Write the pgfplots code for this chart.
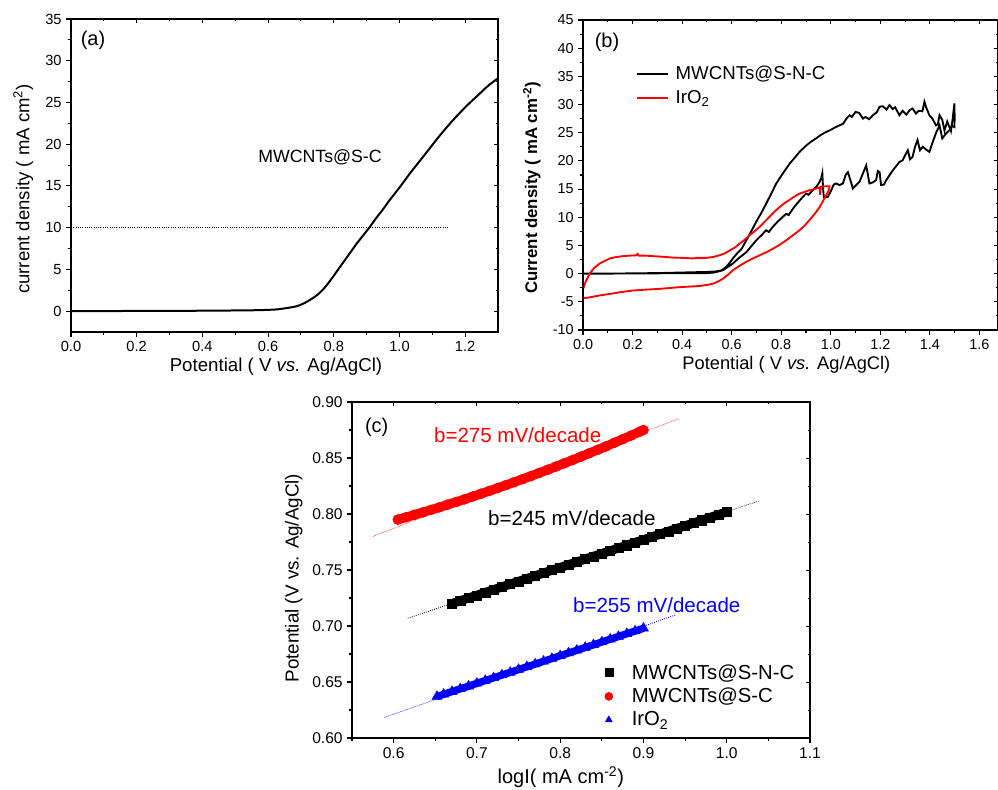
\documentclass[border=0pt]{standalone}
\usepackage{pgfplots}
\usepackage{pgfplotstable}
\pgfplotsset{compat=1.18}
\usepackage{fontspec}
\setmainfont{Liberation Sans}
\newcommand{\fs}[1]{\fontsize{#1}{#1}\selectfont}
\pgfplotsset{
  base/.style={scale only axis, tick align=outside, tick pos=left,
    axis line style={line width=0.9pt},
    major tick length=3.5pt, minor tick length=2pt,
    every tick/.style={black, line width=0.8pt},
    /pgf/number format/assume math mode=true},
  mirror/.style={scale only axis, tick align=inside, tick pos=right,
    xticklabels={}, yticklabels={},
    axis line style={line width=0.9pt},
    major tick length=3pt, minor tick length=1.8pt,
    every tick/.style={black, line width=0.7pt}},
  fx1/.style={xticklabel style={/pgf/number format/fixed,/pgf/number format/fixed zerofill,/pgf/number format/precision=1}},
  fy2/.style={yticklabel style={/pgf/number format/fixed,/pgf/number format/fixed zerofill,/pgf/number format/precision=2}},
}
\pgfplotstableread{
x y
0.67 0.7200
0.68 0.7225
0.69 0.7250
0.70 0.7274
0.71 0.7299
0.72 0.7324
0.73 0.7349
0.74 0.7374
0.75 0.7398
0.76 0.7423
0.77 0.7448
0.78 0.7473
0.79 0.7498
0.80 0.7522
0.81 0.7547
0.82 0.7572
0.83 0.7597
0.84 0.7622
0.85 0.7646
0.86 0.7671
0.87 0.7696
0.88 0.7721
0.89 0.7746
0.90 0.7770
0.91 0.7795
0.92 0.7820
0.93 0.7845
0.94 0.7870
0.95 0.7894
0.96 0.7919
0.97 0.7944
0.98 0.7969
0.99 0.7994
1.00 0.8018
}\blacktab
\pgfplotstableread{
x y
0.605 0.7950
0.615 0.7971
0.625 0.7993
0.635 0.8015
0.645 0.8037
0.655 0.8060
0.665 0.8084
0.675 0.8107
0.685 0.8131
0.695 0.8156
0.705 0.8181
0.715 0.8206
0.725 0.8232
0.735 0.8258
0.745 0.8285
0.755 0.8312
0.765 0.8339
0.775 0.8367
0.785 0.8395
0.795 0.8424
0.805 0.8453
0.815 0.8482
0.825 0.8512
0.835 0.8543
0.845 0.8573
0.855 0.8604
0.865 0.8636
0.875 0.8668
0.885 0.8700
0.895 0.8733
0.900 0.8750
}\redtab
\pgfplotstableread{
x y
0.652 0.6370
0.66 0.6390
0.67 0.6414
0.68 0.6439
0.69 0.6463
0.70 0.6488
0.71 0.6513
0.72 0.6537
0.73 0.6562
0.74 0.6586
0.75 0.6611
0.76 0.6636
0.77 0.6660
0.78 0.6685
0.79 0.6709
0.80 0.6734
0.81 0.6759
0.82 0.6783
0.83 0.6808
0.84 0.6832
0.85 0.6857
0.86 0.6882
0.87 0.6906
0.88 0.6931
0.89 0.6955
0.90 0.6980
}\bluetab
\begin{document}
\begin{tikzpicture}
\useasboundingbox (0pt,0pt) rectangle (748.5pt,591.75pt);
% ---------------- (a)
\begin{axis}[base, fx1, at={(53.25pt,342.75pt)}, anchor=south west,
  width=320.25pt, height=234.75pt,
  xmin=0, xmax=1.3, ymin=-2.5, ymax=35,
  xtick={0,0.2,...,1.2}, ytick={0,5,...,35},
  minor x tick num=1, minor y tick num=1,
  ticklabel style={font=\fs{11}},
  xlabel={Potential ( V \textit{vs.} Ag/AgCl)},
  ylabel={current density ( mA cm\textsuperscript{2})},
  xlabel style={font=\fs{14}, at={(axis description cs:0.48,-0.112)}, anchor=center},
  ylabel style={font=\fs{13.9}, at={(axis description cs:-0.112,0.457)}, anchor=center},
]
\addplot[black, densely dotted, line width=0.7pt] coordinates {(0,10) (1.15,10)};
\addplot[black, line width=1.5pt, smooth] coordinates {
(0,0) (0.1,0.01) (0.2,0.02) (0.3,0.03) (0.4,0.05) (0.5,0.08) (0.55,0.1) (0.6,0.15)
(0.63,0.22) (0.65,0.33) (0.67,0.45) (0.69,0.62) (0.71,0.95) (0.73,1.4) (0.75,1.95)
(0.77,2.7) (0.79,3.7) (0.81,4.8) (0.83,5.9) (0.85,7.0) (0.87,8.1) (0.89,9.1)
(0.91,10.1) (0.93,11.2) (0.95,12.2) (0.97,13.3) (1.0,14.8) (1.03,16.4) (1.06,17.9)
(1.09,19.4) (1.12,20.9) (1.15,22.3) (1.18,23.6) (1.21,24.8) (1.24,25.9) (1.27,27.0) (1.3,27.9)};
\node[font=\fs{13.3}] at (axis cs:0.758,18.47) {MWCNTs@S-C};
\node[font=\fs{15}] at (axis cs:0.067,32.5) {(a)};
\end{axis}
\begin{axis}[mirror, at={(53.25pt,342.75pt)}, anchor=south west,
  width=320.25pt, height=234.75pt,
  xmin=0, xmax=1.3, ymin=-2.5, ymax=35,
  xtick={0,0.2,...,1.2}, ytick={0,5,...,35},
  minor x tick num=1, minor y tick num=1]
\end{axis}
% ---------------- (b)
\begin{axis}[base, fx1, at={(437.25pt,344.25pt)}, anchor=south west,
  width=311.25pt, height=232.5pt,
  xmin=0, xmax=1.675, ymin=-10, ymax=45,
  xtick={0,0.2,...,1.6}, ytick={-10,-5,...,45},
  minor x tick num=1, minor y tick num=1,
  ticklabel style={font=\fs{10.8}},
  xlabel={Potential ( V \textit{vs.} Ag/AgCl)},
  ylabel={\textbf{Current density ( mA cm\textsuperscript{-2})}},
  xlabel style={font=\fs{13.7}, at={(axis description cs:0.49,-0.113)}, anchor=center},
  ylabel style={font=\fs{12.6}, at={(axis description cs:-0.123,0.458)}, anchor=center},
  legend style={at={(0.125,0.864)}, anchor=north west, draw=none, fill=none, font=\fs{14},
    row sep=2.5pt, inner sep=1pt},
  legend cell align=left,
  legend image code/.code={\draw[#1] (0pt,0pt) -- (23pt,0pt); \path (26pt,0pt);},
]
\addplot[black, line width=1.4pt] coordinates {
(0,0) (0.1,0) (0.2,0.05) (0.3,0.05) (0.4,0.1) (0.5,0.1) (0.53,0.2) (0.565,0.6) (0.605,1.8)
(0.63,2.8) (0.659,3.8) (0.68,4.9) (0.699,5.9) (0.72,6.8) (0.739,7.7) (0.75,7.4) (0.766,8.3)
(0.785,9.2) (0.807,10.1) (0.82,10.6) (0.83,10.4) (0.847,11.5) (0.865,12.5) (0.887,13.6)
(0.9,14.2) (0.91,14.0) (0.928,14.8) (0.945,15.6) (0.955,16.3) (0.962,17.0) (0.966,17.8)
(0.969,15.0) (0.972,13.6) (0.988,13.6) (1.002,14.8) (1.012,15.8) (1.022,16.0) (1.035,15.7)
(1.049,16.0) (1.06,17.5) (1.069,18.0) (1.08,16.5) (1.089,15.1) (1.1,15.6) (1.116,16.3)
(1.13,17.8) (1.143,19.2) (1.15,17.5) (1.156,16.0) (1.17,16.2) (1.183,16.6) (1.19,18.2)
(1.197,18.0) (1.203,15.7) (1.215,15.8) (1.224,16.6) (1.25,18.3) (1.277,19.8) (1.29,20.1)
(1.3,21.0) (1.311,21.9) (1.32,20.3) (1.33,20.7) (1.34,22.5) (1.35,23.7) (1.36,21.9)
(1.371,22.5) (1.385,22.0) (1.398,21.6) (1.412,23.4) (1.425,25.0) (1.439,26.3) (1.45,24.0)
(1.466,24.9) (1.48,25.5) (1.49,26.2) (1.499,26.0) (1.5,27.5) (1.499,30.2) (1.492,27.5)
(1.485,25.3) (1.479,26.0) (1.47,27.0) (1.459,25.4) (1.45,27.3) (1.439,28.1) (1.432,26.5)
(1.425,26.3) (1.41,27.5) (1.398,28.1) (1.385,29.5) (1.378,30.5) (1.37,28.8) (1.355,28.9)
(1.344,28.4) (1.33,29.3) (1.318,29.0) (1.305,28.2) (1.29,28.9) (1.277,28.1) (1.26,29.5)
(1.25,29.2) (1.237,29.9) (1.225,29.1) (1.21,29.7) (1.197,29.6) (1.185,28.6) (1.17,28.1)
(1.155,27.4) (1.14,27.8) (1.13,27.5) (1.115,28.5) (1.1,28.7) (1.085,27.8) (1.076,28.1)
(1.065,27.6) (1.05,26.6) (1.035,26.3) (1.02,26.0) (1.008,25.7) (0.99,25.3) (0.975,25.0)
(0.96,24.6) (0.941,24.0) (0.92,23.4) (0.9,22.7) (0.874,21.6) (0.855,20.6) (0.834,19.5)
(0.81,18.0) (0.78,16.0) (0.76,14.2) (0.739,12.4) (0.72,10.8) (0.699,9.2) (0.68,7.6)
(0.659,5.9) (0.64,4.4) (0.62,3.5) (0.605,2.7) (0.59,1.8) (0.578,1.2) (0.56,0.6)
(0.538,0.4) (0.5,0.3) (0.4,0.2) (0.3,0.1) (0.2,0.05) (0.1,0.0) (0,0.0)};
\addlegendentry{MWCNTs@S-N-C}
\addplot[red, line width=1.4pt] coordinates {
(0,-2.8) (0.01,-1.5) (0.027,0) (0.045,1.0) (0.067,1.8) (0.09,2.3) (0.108,2.7) (0.135,2.95)
(0.161,3.1) (0.19,3.2) (0.215,3.25) (0.22,3.5) (0.225,3.2) (0.25,3.2) (0.282,3.1) (0.32,3.0)
(0.363,2.85) (0.4,2.8) (0.444,2.7) (0.46,2.8) (0.497,2.8) (0.525,2.95) (0.551,3.25)
(0.572,3.6) (0.592,4.1) (0.612,4.6) (0.632,5.3) (0.652,6.0) (0.672,6.8) (0.692,7.5)
(0.713,8.3) (0.733,9.2) (0.753,10.1) (0.773,11.0) (0.793,11.8) (0.813,12.5) (0.834,13.1)
(0.854,13.7) (0.874,14.2) (0.894,14.5) (0.914,14.8) (0.934,15.0) (0.955,15.3) (0.957,14.0)
(0.96,15.4) (0.975,15.5) (0.995,15.5) (0.992,14.8) (0.985,14.2) (0.97,13.0) (0.955,11.8)
(0.935,10.6) (0.914,9.5) (0.894,8.5) (0.874,7.7) (0.847,6.8) (0.82,5.9) (0.793,5.1)
(0.766,4.4) (0.74,3.8) (0.713,3.25) (0.686,2.7) (0.659,2.1) (0.632,1.4) (0.605,0.6)
(0.585,-0.2) (0.565,-0.9) (0.545,-1.4) (0.524,-1.8) (0.5,-2.0) (0.47,-2.2) (0.43,-2.3)
(0.39,-2.4) (0.35,-2.55) (0.309,-2.7) (0.25,-2.85) (0.2,-3.0) (0.15,-3.3) (0.108,-3.6)
(0.07,-3.85) (0.04,-4.1) (0.02,-4.25) (0,-4.4)};
\addlegendentry{IrO\textsubscript{2}}
\node[font=\fs{15}] at (axis cs:0.097,41.1) {(b)};
\end{axis}
\begin{axis}[mirror, at={(437.25pt,344.25pt)}, anchor=south west,
  width=311.25pt, height=232.5pt,
  xmin=0, xmax=1.675, ymin=-10, ymax=45,
  xtick={0,0.2,...,1.6}, ytick={-10,-5,...,45},
  minor x tick num=1, minor y tick num=1]
\end{axis}
% ---------------- (c)
\begin{axis}[base, fy2, at={(264pt,38.25pt)}, anchor=south west,
  width=343.5pt, height=252pt,
  xmin=0.55, xmax=1.1, ymin=0.6, ymax=0.9,
  xtick={0.6,0.7,...,1.1}, ytick={0.6,0.65,...,0.9},
  minor xtick={0.55,0.65,...,1.05}, minor y tick num=1,
  xticklabels={0.6,0.7,0.8,0.9,1.0,1.1},
  ticklabel style={font=\fs{11.7}},
  xlabel={logI( mA cm\textsuperscript{-2})},
  ylabel={Potential (V vs. Ag/AgCl)},
  xlabel style={font=\fs{15}, at={(axis description cs:0.456,-0.116)}, anchor=center},
  ylabel style={font=\fs{14.1}, at={(axis description cs:-0.127,0.476)}, anchor=center},
  legend style={at={(0.545,0.232)}, anchor=north west, draw=none, fill=none, font=\fs{15.2},
    row sep=1.3pt, inner sep=1pt},
  legend cell align=left,
  legend image code/.code={\draw[#1, mark size=3pt] plot coordinates {(0pt,0pt)}; \path (-4pt,0pt) (15pt,0pt);},
]
\addplot[red, densely dotted, line width=0.6pt, forget plot] coordinates {(0.575,0.780) (0.942,0.885)};
\addplot[black, densely dotted, line width=0.6pt, forget plot] coordinates {(0.617,0.707) (1.038,0.8115)};
\addplot[blue, densely dotted, line width=0.6pt, forget plot] coordinates {(0.589,0.6184) (0.939,0.710)};
\addplot[black, line width=6.8pt, forget plot] table {\blacktab};
\addplot[only marks, mark=square*, mark size=3.4pt, black] table {\blacktab};
\addlegendentry{MWCNTs@S-N-C}
\addplot[red, line width=7pt, forget plot] table {\redtab};
\addplot[only marks, mark=*, mark size=3.75pt, red] table {\redtab};
\addlegendentry{MWCNTs@S-C}
\addplot[blue, line width=5.5pt, forget plot] table {\bluetab};
\addplot[only marks, mark=triangle*, mark size=4.3pt, blue] table {\bluetab};
\addlegendentry{IrO\textsubscript{2}}
\node[font=\fs{15}] at (axis cs:0.5797,0.8775) {(c)};
\node[font=\fs{15.4}, text=red] at (axis cs:0.749,0.8703) {b=275 mV/decade};
\node[font=\fs{15.4}, text=black] at (axis cs:0.814,0.7963) {b=245 mV/decade};
\node[font=\fs{15.4}, text=blue] at (axis cs:0.916,0.7188) {b=255 mV/decade};
\end{axis}
\begin{axis}[mirror, at={(264pt,38.25pt)}, anchor=south west,
  width=343.5pt, height=252pt,
  xmin=0.55, xmax=1.1, ymin=0.6, ymax=0.9,
  xtick={0.6,0.7,...,1.1}, ytick={0.6,0.65,...,0.9},
  minor xtick={0.55,0.65,...,1.05}, minor y tick num=1]
\end{axis}
\end{tikzpicture}
\end{document}
